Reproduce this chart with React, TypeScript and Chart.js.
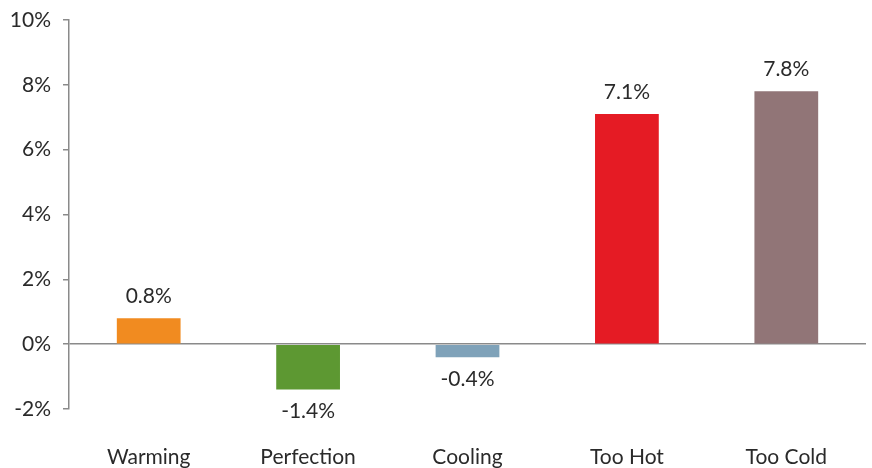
import React, { useEffect, useRef } from "react";
import { Chart, registerables } from "chart.js";

Chart.register(...registerables);

const categories = ["Warming", "Perfection", "Cooling", "Too Hot", "Too Cold"];
const values = [0.8, -1.4, -0.4, 7.1, 7.8];
const barColors = ["#F18B20", "#5D9832", "#7FA2B9", "#E51B24", "#917577"];
const yTicks = [-2, 0, 2, 4, 6, 8, 10];

const FONT = "Lato, 'Open Sans', sans-serif";
const FONT_SIZE = 21;
const TEXT = "#2a2a2a";
const AXIS = "#8a8a8a";

// Writes each bar's value just past the bar's end (above if positive, below if negative).
const valueLabels = {
  id: "valueLabels",
  afterDatasetsDraw(chart: any) {
    const { ctx } = chart;
    const meta = chart.getDatasetMeta(0);
    const data = chart.data.datasets[0].data as number[];
    ctx.save();
    ctx.font = `${FONT_SIZE}px ${FONT}`;
    ctx.fillStyle = TEXT;
    ctx.textAlign = "center";
    ctx.textBaseline = "middle";
    meta.data.forEach((bar: any, i: number) => {
      const v = data[i];
      const text = `${v.toFixed(1)}%`;
      const y = v >= 0 ? bar.y - 22 : bar.y + 22;
      ctx.fillText(text, bar.x, y);
    });
    ctx.restore();
  },
};

export default function App() {
  const canvasRef = useRef<HTMLCanvasElement | null>(null);

  useEffect(() => {
    if (!canvasRef.current) return;
    const chart = new Chart(canvasRef.current, {
      type: "bar",
      data: {
        labels: categories,
        datasets: [
          {
            data: values,
            backgroundColor: barColors,
            barPercentage: 0.4,
            categoryPercentage: 1,
          },
        ],
      },
      options: {
        animation: false,
        responsive: false,
        maintainAspectRatio: false,
        layout: { padding: { top: 20, right: 6, left: 0, bottom: 0 } },
        plugins: {
          legend: { display: false },
          tooltip: { enabled: false },
        },
        scales: {
          x: {
            grid: { display: false, drawTicks: false },
            border: { display: false },
            afterFit: (scale: any) => {
              scale.height = 59;
            },
            ticks: {
              color: TEXT,
              font: { family: FONT, size: FONT_SIZE },
              padding: 36,
              maxRotation: 0,
              autoSkip: false,
            },
          },
          y: {
            min: -2,
            max: 10,
            afterBuildTicks: (scale: any) => {
              scale.ticks = yTicks.map((v) => ({ value: v }));
            },
            afterFit: (scale: any) => {
              scale.width = 69;
              scale.paddingTop = 0;
              scale.paddingBottom = 0;
            },
            border: { display: true, color: AXIS, width: 1.5 },
            grid: {
              drawOnChartArea: true,
              color: (c: any) => (c.tick && c.tick.value === 0 ? AXIS : "rgba(0,0,0,0)"),
              lineWidth: 1.5,
              tickColor: AXIS,
              tickLength: 6,
            },
            ticks: {
              color: TEXT,
              font: { family: FONT, size: FONT_SIZE },
              padding: 12,
              callback: (v: any) => `${v}%`,
            },
          },
        },
      },
      plugins: [valueLabels],
    });
    return () => chart.destroy();
  }, []);

  return (
    <div style={{ position: "fixed", left: 0, top: 0, width: 872, height: 468, background: "#fff" }}>
      <canvas ref={canvasRef} width={872} height={468} />
    </div>
  );
}
